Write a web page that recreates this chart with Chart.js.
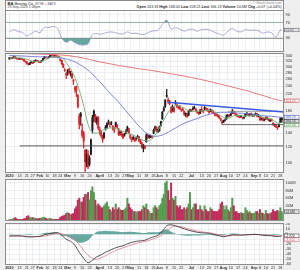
<!DOCTYPE html>
<html>
<head>
<meta charset="utf-8">
<script src="https://cdn.jsdelivr.net/npm/chart.js@4"></script>
<style>
body{margin:0;background:#efefef;width:300px;height:270px;overflow:hidden;font-family:"Liberation Sans",Arial,sans-serif}
.pane{position:absolute;left:0;width:300px}
#hdr{position:absolute;left:5px;top:0;width:277px;height:9px;background:#fff;border:1px solid #8c8c8c;border-bottom:none;color:#222}
#hdr div{position:absolute;white-space:nowrap;line-height:1}
</style>
</head>
<body>
<div class="pane" style="top:0;height:52px"><canvas id="rsiChart"></canvas></div>
<div class="pane" style="top:53px;height:125px"><canvas id="priceChart"></canvas></div>
<div class="pane" style="top:179px;height:42px"><canvas id="volChart"></canvas></div>
<div class="pane" style="top:223px;height:47px"><canvas id="macdChart"></canvas></div>
<div id="hdr">
  <div style="left:1.5px;top:0.8px;font-size:4px"><b>BA</b> Boeing Co. <span style="font-size:3.2px;color:#555">NYSE + BATS</span></div>
  <div style="left:1.5px;top:5px;font-size:3.5px;color:#444">29-Sep-2020 1:48pm</div>
  <div style="right:1.5px;top:0.8px;font-size:3.3px;color:#777">© StockCharts.com</div>
  <div style="right:1.5px;top:5px;font-size:3.7px"><b>Open</b> 163.33 <b>High</b> 168.00 <b>Low</b> 158.21 <b>Last</b> 166.13 <b>Volume</b> 24.6M <b>Chg</b> +0.07 (+0.04%)</div>
</div>
<script>
// trading day index of each date label (0 = 2 Jan 2020)
const tickIdx = [0,7,12,16,21,26,31,35,40,45,50,55,62,69,74,79,83,89,94,99,103,108,113,118,125,132,137,142,147,152,157,162,168,172,176,181,186];
const tickText = ['2020','13','21','27','Feb','10','18','24','Mar','9','16','23','April','13','20','27','May','11','18','26','Jun','8','15','22','Jul','13','20','27','Aug','10','17','24','Sep','8','14','21','28'];

// daily candles, Jan 2 .. Sep 29 2020
const open = [
  328.6,330,332,334,337,332,330,328.5,331,328,326,321,318,312,309,315,312,317,322,323,321,
  318,318,324,331,336,334,334,338,342,341,340,341,340,337,328,323,310,290,278,
  282,291,285,277,258,236,240,217,170,175,145,140,115,100,110,98,110,145,169,172,160,167,
  141,142,135,133,150,150,160,156,158,152,148,152,153,147,141,141,138,137,142,144,147,
  137,131,133,132,131,133,134,129,125,118,120,127,136,136,134,134,140,148,150,143,
  144,153,165,182,191,214,206,198,188,186,180,200,194,188,190,183,185,180,173,174,172,181,
  183,186,187,185,179,178,176,184,181,184,186,185,180,180,182,180,176,173,172,170,166,161,
  159,162,165,171,172,172,176,180,176,174,171,170,170,167,168,170,176,174,172,176,172,
  172,174,175,171,169,165,166,163,165,168,164,161,164,157,155,154,149,151,158,163.33];
const high = [
  333.4,333.5,334.5,337.5,337.5,332.5,331,331.5,331.5,329,326.5,321.5,318.5,313,315,318.5,317,322.5,326,324,322,
  319,323,331,339,338,335,338.5,344,343,342,342.5,343,341,338,329,324,311,294,281,
  291,295,285,278,260,240,241,218,175,178,156,143,116,116,115,108,131,172,183,174,169,170,
  150,144,137,142,153,158,163,159,160,153,150,159,155,147.5,143,143,139,140,146,152,148,
  138,133,136,133,133,137,135,130,126,123,121,139,138,137,137,136,147,152,151,147,
  152,161,180,190,206,232,210,204,190,194,190,204,196,191,193,185,188,181,177,176,182,185,
  184,190,191,186,181,179,184,190,182,190,188,186,181,185,183,181,177,175,174,171,166.5,161.5,
  163,165,173,174,174,176,184,181,177,175,172,171,172,168.5,169,176,178,175,176,177,174,
  174,177,176,174,169.5,167,168,165,169,169,165,165,165,158,156,155,151,156,167,168];
const low = [
  327.7,329,330,332.5,330,328,327,327.5,327,325,320,316,310,306,308,313,311,316,321,319,316.5,
  314,317,323,330,333,331,333,337,339,338.5,338.5,339,336.5,333,320,309,297,285,262,
  272,276,270,262,245,224,213,187,147,153,133,118,89,95,93,96,109,140,160,158,155,146,
  138,133,126,132,145,148,155,150,154,145,141,150,148,136,137,135,131,135,139,143,139,
  131,127,130,127,129,132,127,124,118,113,117,126,132,132,133,132,139,145,142,141,
  143,152,164,180,188,211,197,194,177,180,178,195,188,185,184,180,181,172,170,168,171,180,
  179,183,185,179,176,173,175,180,177,183,184,180,176,179,177,175,171,171,169,166,162,155,
  158,161,164,169,169,171,175,175,172,170,168,167,168,165,165,170,173,171,171,171,170,
  170,173,169,169,162,163,161,161,164,163,161,160,161,153,151,149,146,150,158,158.21];
const close = [
  333.3,332.8,333.7,337.3,331.4,329.9,328.1,331,328,326.5,321,318,311,309.5,314,317,316,321.5,324,321,318.2,
  316,322,330,337,335.5,333,337,342.5,341,340,341,340,338,335,322,310,298,288,275,
  290,280,283,265,255,232,228,190,155,170,137,128,101,109,95,105,130,167,180,162,167,149,
  146,136,130,140,148,156,160,155,157,147,145,158,150,138,140,137,133,138,140,150,141,
  133,130,131,128,131,135,128,125,119,122,118,137,133,134,135,134,145,150,143,146,
  151,160,178,186,205,216,200,197,178,189,187,197,190,188,185,183,182,174,176,169,181,183,
  180,184,188,180,178,175,183,181,180,188,185,181,178,184,179,177,173,172,170,167,163,158,
  162,163,171,172,171,174,180,176,174,171,170,169,169,167,167,175,175,172,175,172,172,
  173,176,170,172,163,165,162,163,168,164,163,164,162,155,153,150,149,155,166.06,166.13];
// volume, millions of shares
const volume = [
  4,3.5,5,7,9,6,4,5,4,4,6,7,12,14,10,8,9,8,7,6,6,
  7,8,9,10,7,5,6,7,5,4,5,4,4,5,10,12,14,15,20,
  22,20,16,18,20,32,38,55,60,50,50,62,70,70,75,56,80,90,75,55,40,45,
  40,35,35,40,45,50,38,30,25,35,30,45,30,35,30,28,28,30,35,60,45,
  35,30,25,25,22,25,25,25,30,40,35,45,30,25,20,20,35,40,35,30,
  40,45,60,70,100,105,80,55,100,60,55,65,40,35,40,30,30,35,30,35,45,75,
  30,35,45,45,30,30,40,30,25,40,30,25,25,35,30,25,25,25,25,30,45,50,
  40,30,40,30,25,35,60,40,25,25,20,20,22,20,20,35,28,22,25,20,20,
  20,25,25,20,30,22,20,18,28,20,18,20,22,30,25,25,28,25,35,24.6];

// moving averages, read every 5 sessions
const maX = [0,5,10,15,20,25,30,35,40,45,50,55,60,65,70,75,80,85,90,95,100,105,110,115,120,125,130,135,140,145,150,155,160,165,170,175,180,185,187];
const ma20 = [332,333,331,322,318,326,337,336,308,265,205,148,140,146,149,146,141,137,131,128,137,158,182,193,186,180,180,182,180,171,166,172,171,171,172,167,164,157,159];
const ma50 = [342,341,340,338,337,336,335,333,327,318,303,285,262,240,218,200,181,164,149,139,135,137,143,150,157,162,167,172,176,178,178,177,176,175,173,171,170,168.5,168.2];
const ma200 = [351,350.5,350,349,348,347,346,344,342,338,333,327,320,315,310,305,301,297,293,290,286,282,278,274,270,265.5,261,256,251,246,241,236,231,226,220,215,209,204.5,203.24];

// oscillators, read every 3 sessions
const oscX = [0,3,6,9,12,15,18,21,24,27,30,33,36,39,42,45,48,51,54,57,60,63,66,69,72,75,78,81,84,87,90,93,96,99,102,105,108,111,114,117,120,123,126,129,132,135,138,141,144,147,150,153,156,159,162,165,168,171,174,177,180,183,186,187];
const rsi = [46,52,47,45,36,42,48,44,58,57,60,55,30,20,25,19,14,13,16,40,42,40,44,46,45,42,41,46,42,43,40,40,46,49,50,65,76,53,57,53,48,52,53,48,52,53,50,45,41,38,48,55,48,46,52,50,51,49,43,46,44,33,51,51.02];
const macd = [-3,-3,-3,-3.5,-5,-5.5,-4.5,-4,-1,1,3,3.5,-2,-10,-14,-22,-36,-48,-57,-52,-45,-41,-36,-32,-28,-25,-23,-19,-16,-14,-13,-12,-8,-5,-2,6,17,19,17,14,11,8,6,4,3,2.5,1.5,-1,-3,-5,-3,-1,-1,-1.5,-1,-0.5,0,-0.5,-2,-2.5,-3,-4.5,-3.5,-2.92];
const signal = [-4,-3.8,-3.5,-3.5,-4,-4.5,-4.8,-4.5,-3.5,-2,0,1.5,1,-2,-6,-10,-21,-32,-42,-48,-50,-47,-43,-38,-34,-30,-27,-24,-21,-18,-16,-14.5,-12,-9,-6,-1,7,14,16,15.5,13.5,11,8.5,6.5,5,3.8,2.8,1,-1,-3,-3.5,-2.5,-2,-1.8,-1.5,-1,-0.5,-0.5,-1,-1.8,-2.3,-3.2,-3.5,-3.6];
const hist = [1,0.8,0.5,0,-1,-1,0.3,0.5,2.5,3,3,2,-3,-4,-8,-13,-17,-16,-12,-3,5,6,7,6,6,5,4,5,5,4,3,2.5,4,4,4,7,10,5,1,-1.5,-2.5,-3,-2.5,-2.5,-2,-1.3,-1.3,-2,-2,-2,0.5,1.5,1,0.3,0.5,0.5,0.5,0,-1,-0.7,-0.7,-1.3,0,0.7];

// hand drawn lines on the price panel: [start, end] in sessions and dollars
const supportX = [7,188.5], supportY = [121,121];
const trendX = [109,188.5], trendY = [200,178.5];
const rangeTopX = [150,188.5], rangeTopY = [180,180];
const rangeLowX = [146,188.5], rangeLowY = [154.5,154.5];
const rsiLevels = [70,30];

const family = '"Liberation Sans", Arial, sans-serif';
Chart.defaults.font.family = family;
const gridColor = '#e1e5eb';
const last = a => a[a.length - 1];

const panel = {
  id: 'panel',
  beforeDraw(chart) {
    const a = chart.chartArea, g = chart.ctx;
    g.save();
    g.fillStyle = '#fff';
    g.fillRect(a.left, a.top, a.right - a.left, a.bottom - a.top);
    g.restore();
  },
  afterDraw(chart, args, o) {
    const a = chart.chartArea, g = chart.ctx, s = chart.scales.y;
    g.save();
    g.strokeStyle = '#8c8c8c';
    g.lineWidth = 1;
    g.strokeRect(a.left + 0.5, a.top + 0.5, a.right - a.left - 1, a.bottom - a.top - 1);
    const items = (o.boxes || []).map(b => ({b: b, y: s.getPixelForValue(b.v)})).sort((p, q) => p.y - q.y);
    for (let i = 1; i < items.length; i++) {
      if (items[i].y < items[i-1].y + 3.9) items[i].y = items[i-1].y + 3.9;
    }
    g.font = '3.3px ' + family;
    g.textBaseline = 'middle';
    items.forEach(it => {
      g.fillStyle = it.b.bg;
      g.fillRect(a.right + 0.5, it.y - 1.8, 14.5, 3.6);
      g.strokeStyle = it.b.fg;
      g.lineWidth = 0.5;
      g.strokeRect(a.right + 0.5, it.y - 1.8, 14.5, 3.6);
      g.fillStyle = it.b.fg;
      g.fillText(it.b.t, a.right + 1.5, it.y + 0.2);
    });
    g.restore();
  }
};
Chart.register(panel);

function xAxis(showLabels) {
  return {
    type: 'linear', min: -3, max: 188.5, offset: false,
    afterBuildTicks: s => { s.ticks = tickIdx.map(v => ({value: v})); },
    afterFit: s => { s.height = showLabels ? 5 : 0; s.paddingLeft = 0; s.paddingRight = 0; },
    grid: {color: gridColor, lineWidth: 0.6, drawTicks: false},
    border: {display: false},
    ticks: {
      display: showLabels, autoSkip: false, maxRotation: 0, padding: 0.6, color: '#333',
      font: c => {
        const t = tickText[c.index] || '';
        return {size: 3.8, family: family, weight: (isNaN(t) || t.length == 4) ? 'bold' : 'normal'};
      },
      callback: (v, i) => tickText[i]
    }
  };
}

function yAxis(type, min, max, ticks, fmt) {
  return {
    type: type, min: min, max: max, position: 'right',
    afterBuildTicks: s => { s.ticks = ticks.map(v => ({value: v})); },
    afterFit: s => { s.width = 16; s.paddingTop = 0; s.paddingBottom = 0; },
    grid: {color: gridColor, lineWidth: 0.6, drawTicks: false},
    border: {display: false},
    ticks: {autoSkip: false, padding: 1.5, color: '#333', font: {size: 4, family: family}, callback: fmt}
  };
}

function options(x, y, boxes, top) {
  return {
    responsive: true, maintainAspectRatio: false, animation: false, events: [],
    layout: {padding: {left: 5, right: 0, top: top || 0, bottom: 0}},
    plugins: {legend: {display: false}, tooltip: {enabled: false}, panel: {boxes: boxes}},
    scales: {x: x, y: y}
  };
}

function line(xs, ys, color, width, smooth) {
  return {
    type: 'line', data: xs.map((x, i) => ({x: x, y: ys[i]})),
    borderColor: color, borderWidth: width, pointRadius: 0, fill: false,
    cubicInterpolationMode: smooth ? 'monotone' : 'default', tension: 0
  };
}

const days = close.map((c, i) => i);
const upDay = close.map((c, i) => c >= (i ? close[i-1] : open[i]));
const candleColor = upDay.map(u => u ? '#1e1e1e' : '#e3222b');
const volColor = upDay.map(u => u ? '#549c4e' : '#c42a5c');
const teal = 'rgba(62,146,134,0.8)';

// RSI
const rsiPts = oscX.map((x, i) => ({x: x, y: rsi[i]}));
new Chart(document.getElementById('rsiChart'), {
  type: 'line',
  data: {datasets: [
    {data: rsiPts, borderColor: '#9494cc', borderWidth: 0.8, pointRadius: 0, tension: 0.3,
     fill: {target: {value: rsiLevels[1]}, above: 'rgba(0,0,0,0)', below: teal}},
    {data: rsiPts, borderWidth: 0, pointRadius: 0, tension: 0.3,
     fill: {target: {value: rsiLevels[0]}, above: teal, below: 'rgba(0,0,0,0)'}},
    line([-3, 188.5], [rsiLevels[0], rsiLevels[0]], '#9a9a9a', 0.7),
    line([-3, 188.5], [rsiLevels[1], rsiLevels[1]], '#6e6e6e', 0.8)
  ]},
  options: options(xAxis(false), yAxis('linear', -4.7, 101.6, [90, 70, 50, 30], v => v),
    [{v: last(rsi), t: last(rsi).toFixed(2), fg: '#555', bg: '#e4e4ee'}], 10)
});

// price
new Chart(document.getElementById('priceChart'), {
  type: 'bar',
  data: {datasets: [
    line(trendX, trendY, '#3a5ae6', 1.6),
    line(supportX, supportY, '#4a4a4a', 0.9),
    line(rangeTopX, rangeTopY, '#8a8a8a', 0.8),
    line(rangeLowX, rangeLowY, '#555', 0.9),
    line(maX, ma20, '#6cb06c', 0.9, true),
    line(maX, ma50, '#7078d8', 0.9, true),
    line(maX, ma200, '#e46a6a', 0.9, true),
    {type: 'bar', data: days.map(i => ({x: i, y: [open[i], close[i]]})), backgroundColor: candleColor,
     borderWidth: 0, barThickness: 1.3, grouped: false},
    {type: 'bar', data: days.map(i => ({x: i, y: [low[i], high[i]]})), backgroundColor: candleColor,
     borderWidth: 0, barThickness: 0.6, grouped: false}
  ]},
  options: options(xAxis(true),
    yAxis('logarithmic', 88.6, 352, [340,320,300,280,260,240,220,200,180,160,140,120,100], v => v),
    [{v: last(ma200), t: last(ma200).toFixed(2), fg: '#d83a3a', bg: '#fff'},
     {v: last(ma50), t: last(ma50).toFixed(2), fg: '#4a52c8', bg: '#fff'},
     {v: last(close), t: last(close).toFixed(2), fg: '#222', bg: '#e0e0e0'},
     {v: last(ma20), t: last(ma20).toFixed(2), fg: '#3d8d3d', bg: '#fff'}])
});

// volume
new Chart(document.getElementById('volChart'), {
  type: 'bar',
  data: {datasets: [
    {data: days.map(i => ({x: i, y: volume[i]})), backgroundColor: volColor, borderWidth: 0, barThickness: 1.35}
  ]},
  options: options(xAxis(false), yAxis('linear', 0, 110.5, [100, 80, 60, 40], v => v + 'M'),
    [{v: last(volume), t: last(volume) + 'M', fg: '#333', bg: '#e4e4e4'}])
});

// MACD
new Chart(document.getElementById('macdChart'), {
  type: 'line',
  data: {datasets: [
    line(oscX, macd, '#2a2a2a', 0.8, true),
    line(oscX, signal, '#e07a8c', 0.8, true),
    {data: oscX.map((x, i) => ({x: x, y: hist[i]})), borderWidth: 0, pointRadius: 0,
     backgroundColor: teal, fill: 'origin', cubicInterpolationMode: 'monotone'}
  ]},
  options: options(xAxis(true), yAxis('linear', -61.4, 22.6, [20,10,0,-10,-20,-30,-40,-50,-60], v => v),
    [{v: last(macd), t: last(macd).toFixed(3), fg: '#222', bg: '#fff'},
     {v: last(signal), t: last(signal).toFixed(3), fg: '#d0566c', bg: '#fff'}])
});
</script>
</body>
</html>
